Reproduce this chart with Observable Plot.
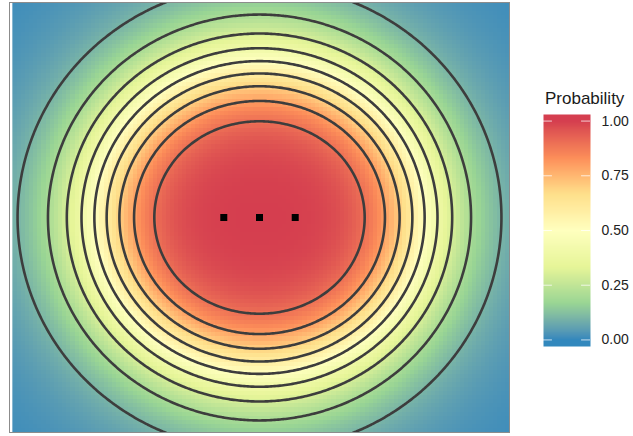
<!DOCTYPE html>
<html>
<head>
<meta charset="utf-8">
<script src="https://cdn.jsdelivr.net/npm/d3@7"></script>
<script src="https://cdn.jsdelivr.net/npm/@observablehq/plot@0.6"></script>
<style>
  body { margin: 0; background: #fff; font-family: "Liberation Sans", Arial, sans-serif; }
  #wrap { position: relative; width: 633px; height: 436px; }
  #main { position: absolute; left: 0; top: 0; }
  #legend { position: absolute; left: 512px; top: 0; }
  #legend-title { position: absolute; left: 545px; top: 90px; font-size: 17px; line-height: 17px; color: #1a1a1a; white-space: nowrap; }
</style>
</head>
<body>
<div id="wrap">
  <div id="main"></div>
  <div id="legend"></div>
  <div id="legend-title">Probability</div>
</div>
<script>
// Observed locations
const pointX = [-1, 0, 1];
const pointY = [0, 0, 0];

// Contour levels of the probability surface
const contourLevels = [0.1, 0.2, 0.3, 0.4, 0.5, 0.6, 0.7, 0.8, 0.9];

// Legend breaks
const legendBreaks = [0, 0.25, 0.5, 0.75, 1];

// Reversed Brewer "Spectral" (7 classes), low to high
const spectral = ["#3288bd", "#99d594", "#e6f598", "#ffffbf", "#fee08b", "#fc8d59", "#d53e4f"];

// Fitted surface: logit(p) = -slope * (r^power - shift), where r is the
// distance from the centre location plus a small vertical offset term
const centerX = 0, centerY = 0;
const yOffset = 0.26, power = 0.4, slope = 7.215, shift = 1.845;

function probability(x, y) {
  const dx = x - centerX, dy = y - centerY;
  const rho2 = dx * dx + dy * dy;
  const rho = Math.sqrt(rho2);
  const r = rho2 > 0 ? rho + yOffset * (dy * dy) / rho2 : 0;
  return 1 / (1 + Math.exp(slope * (Math.pow(r, power) - shift)));
}

const colorScale = {
  type: "linear",
  domain: [0, 1],
  clamp: true,
  interpolate: d3.piecewise(d3.interpolateLab, spectral)
};

const points = pointX.map((x, i) => ({x, y: pointY[i]}));

const main = Plot.plot({
  width: 512,
  height: 436,
  marginLeft: 9,
  marginRight: 3,
  marginTop: 2,
  marginBottom: 4,
  x: {domain: [-7, 7], axis: null},
  y: {domain: [-6, 6], axis: null},
  color: colorScale,
  marks: [
    Plot.raster({
      fill: probability,
      x1: -6.92, x2: 7, y1: -6, y2: 6,
      width: 120, height: 103,
      imageRendering: "pixelated"
    }),
    Plot.contour({
      value: probability,
      x1: -9, x2: 9, y1: -8, y2: 8,
      width: 360, height: 320,
      thresholds: contourLevels,
      fill: "none",
      stroke: "#3d3d3d",
      strokeWidth: 2.6,
      strokeLinejoin: "round",
      clip: true
    }),
    Plot.dot(points, {x: "x", y: "y", symbol: "square", r: 3.95, fill: "black", stroke: "none"}),
    Plot.frame({stroke: "#8c8c8c"})
  ]
});
document.getElementById("main").append(main);

const legend = Plot.plot({
  width: 121,
  height: 436,
  marginLeft: 31,
  marginRight: 43,
  marginTop: 114,
  marginBottom: 90,
  style: {fontSize: "14px", color: "#222", fontFamily: "Liberation Sans, Arial, sans-serif"},
  x: {domain: [0, 1], axis: null},
  y: {
    domain: [-0.03, 1.03],
    axis: "right",
    ticks: legendBreaks,
    tickFormat: d3.format(".2f"),
    tickSize: 0,
    tickPadding: 11,
    label: null
  },
  color: colorScale,
  marks: [
    Plot.raster({
      fill: (x, y) => Math.max(0, Math.min(1, y)),
      x1: 0, x2: 1, y1: -0.03, y2: 1.03,
      width: 1, height: 240
    }),
    Plot.ruleY(legendBreaks, {x1: 0, x2: 0.19, stroke: "white", strokeOpacity: 0.75}),
    Plot.ruleY(legendBreaks, {x1: 0.81, x2: 1, stroke: "white", strokeOpacity: 0.75})
  ]
});
document.getElementById("legend").append(legend);
</script>
</body>
</html>
